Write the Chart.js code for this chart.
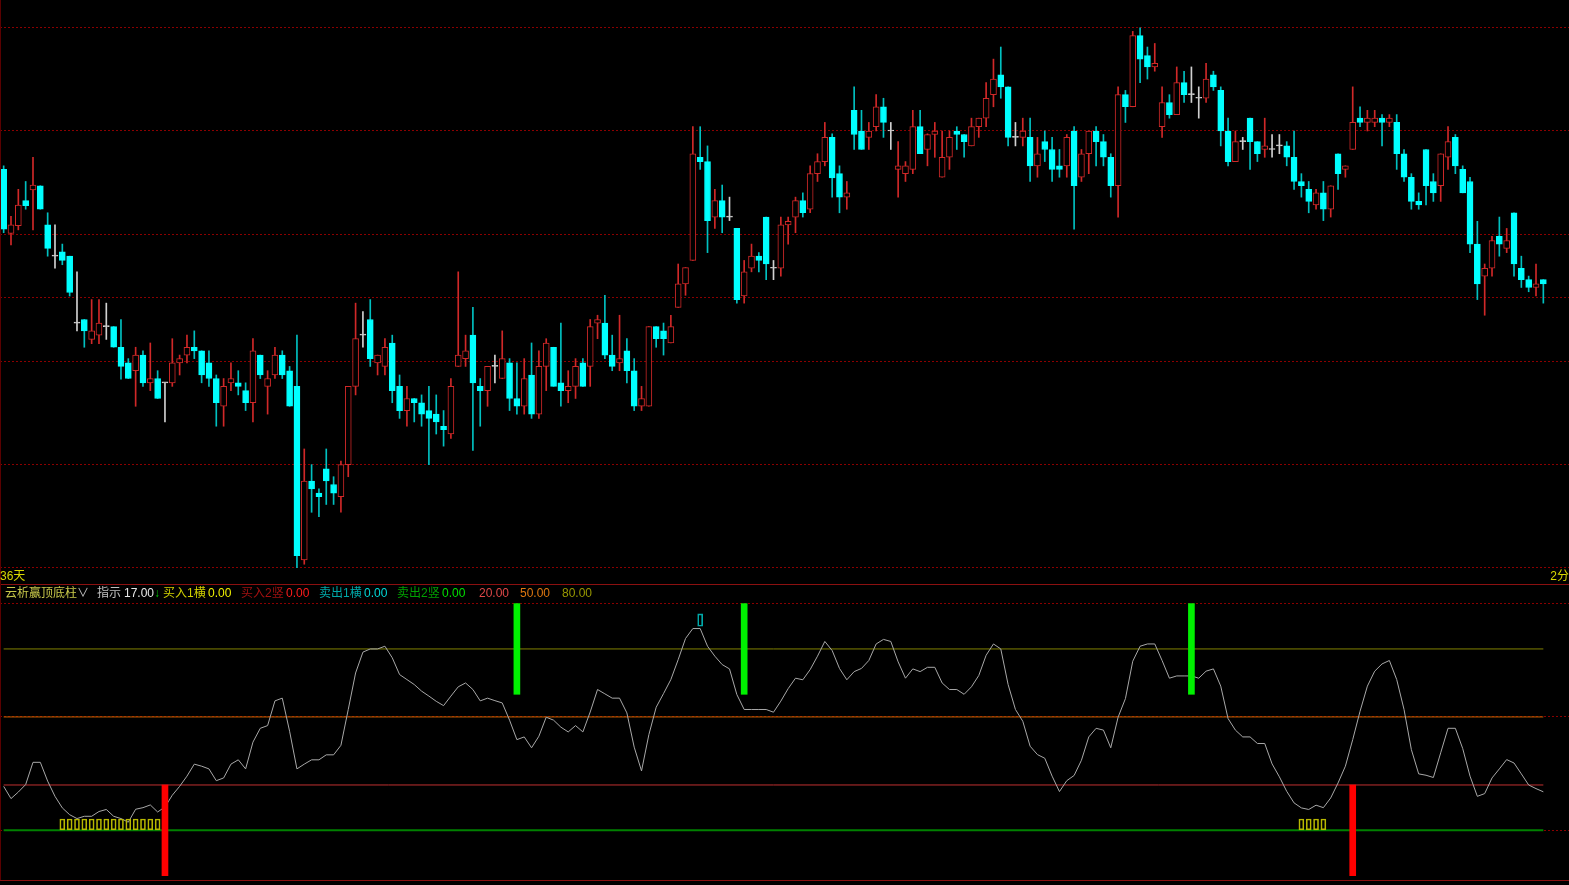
<!DOCTYPE html>
<html>
<head>
<meta charset="utf-8">
<script src="https://cdn.jsdelivr.net/npm/chart.js@4.4.0/dist/chart.umd.min.js"></script>
<style>
  body { margin: 0; background: #000; width: 1569px; height: 885px; overflow: hidden; position: relative;
         font-family: "Liberation Sans", "Noto Sans CJK SC", sans-serif; }
  canvas { position: absolute; left: 0; }
  #price-chart { top: 0; }
  #signal-chart { top: 585px; }
  .txt { position: absolute; font-size: 12px; line-height: 14px; white-space: nowrap; }
  .rule { position: absolute; left: 0; width: 1569px; height: 1px; background: #8b1010; }
</style>
</head>
<body>
<canvas id="price-chart" width="1569" height="584"></canvas>
<div class="rule" style="top:584px"></div>
<canvas id="signal-chart" width="1569" height="300"></canvas>
<div class="rule" style="top:880px"></div>
<div class="rule" style="top:0;width:1px;height:880px;background:#5a0000"></div>

<div class="txt" style="left:0;top:569px;color:#d8d800">36天</div>
<div class="txt" style="right:0;top:569px;color:#d8d800">2分</div>

<div class="txt" style="left:5px;top:586px;color:#c8c84a">云析赢顶底柱</div>
<div class="txt" style="left:77px;top:586px;color:#c0c0c0">∨</div>
<div class="txt" style="left:97px;top:586px;color:#c0c0c0">指示</div>
<div class="txt" style="left:124px;top:586px;color:#e8e8e8">17.00</div>
<div class="txt" style="left:154px;top:586px;color:#00c000">↓</div>
<div class="txt" style="left:163px;top:586px;color:#d0d000">买入1横</div>
<div class="txt" style="left:208px;top:586px;color:#f0f000">0.00</div>
<div class="txt" style="left:241px;top:586px;color:#a01010">买入2竖</div>
<div class="txt" style="left:286px;top:586px;color:#ff1c1c">0.00</div>
<div class="txt" style="left:319px;top:586px;color:#00a8a8">卖出1横</div>
<div class="txt" style="left:364px;top:586px;color:#00d8d8">0.00</div>
<div class="txt" style="left:397px;top:586px;color:#00a000">卖出2竖</div>
<div class="txt" style="left:442px;top:586px;color:#00e000">0.00</div>
<div class="txt" style="left:479px;top:586px;color:#e04848">20.00</div>
<div class="txt" style="left:520px;top:586px;color:#e07810">50.00</div>
<div class="txt" style="left:562px;top:586px;color:#989800">80.00</div>

<script>
'use strict';

let openP = [
  17.90, 17.00, 17.11, 17.46, 17.61, 17.67, 17.12, 16.68, 16.74, 16.68,
  15.74, 15.79, 15.51, 15.57, 15.69, 15.69, 15.40, 15.18, 15.07, 15.29,
  14.90, 14.96, 14.90, 14.90, 15.18, 15.29, 15.40, 15.35, 15.18, 14.96,
  14.57, 14.90, 14.90, 14.79, 14.62, 15.29, 14.85, 15.01, 15.29, 15.07,
  14.85, 12.41, 13.52, 13.35, 13.69, 13.47, 13.30, 13.75, 14.85, 15.57,
  15.79, 15.18, 15.13, 15.46, 14.85, 14.51, 14.68, 14.62, 14.51, 14.46,
  14.29, 14.18, 15.13, 15.24, 15.57, 14.85, 14.79, 15.13, 14.96, 15.18,
  14.68, 14.57, 15.01, 14.46, 15.13, 15.40, 14.90, 14.79, 14.85, 15.18,
  15.13, 15.74, 15.74, 15.29, 15.18, 15.35, 15.07, 14.57, 14.57, 15.69,
  15.63, 15.46, 15.96, 16.29, 16.62, 18.07, 18.01, 17.23, 17.46, 17.23,
  17.07, 16.12, 16.51, 16.68, 17.23, 16.51, 16.51, 17.12, 17.23, 17.46,
  17.34, 17.84, 18.01, 18.35, 17.84, 17.51, 18.73, 18.44, 18.35, 18.50,
  18.78, 18.44, 17.90, 17.84, 17.90, 18.50, 18.18, 18.39, 17.79, 18.07,
  18.44, 18.39, 18.23, 18.50, 18.62, 18.95, 19.23, 19.06, 18.35, 18.35,
  18.35, 17.95, 18.29, 18.18, 17.95, 17.95, 18.44, 17.79, 18.12, 18.44,
  18.29, 18.07, 17.67, 18.95, 18.78, 19.78, 19.50, 19.34, 18.50, 18.84,
  18.67, 19.12, 18.95, 18.90, 18.90, 19.23, 19.01, 18.44, 18.01, 18.29,
  18.62, 18.29, 18.18, 18.18, 18.23, 18.23, 18.07, 17.73, 17.62, 17.40,
  17.57, 17.34, 18.12, 17.90, 18.18, 18.62, 18.56, 18.56, 18.62, 18.56,
  18.56, 18.12, 17.79, 17.45, 18.18, 17.73, 17.67, 18.07, 18.35, 17.90,
  17.73, 16.85, 16.40, 16.51, 16.96, 16.79, 17.29, 16.51, 16.35, 16.24,
  16.35
];

let highP = [
  17.95, 17.24, 17.62, 17.73, 18.07, 17.67, 17.29, 17.12, 16.85, 16.68,
  16.46, 15.79, 16.07, 16.07, 16.02, 15.69, 15.79, 15.24, 15.40, 15.35,
  15.46, 15.07, 14.90, 15.52, 15.29, 15.57, 15.63, 15.35, 15.35, 15.01,
  14.96, 15.18, 15.07, 14.90, 15.52, 15.29, 15.07, 15.40, 15.35, 15.13,
  15.57, 13.97, 13.75, 13.41, 13.97, 13.58, 13.80, 14.85, 16.02, 15.90,
  16.07, 15.29, 15.52, 15.57, 15.01, 14.85, 14.68, 14.73, 14.85, 14.73,
  14.51, 14.96, 16.46, 15.57, 15.96, 14.96, 15.13, 15.29, 15.63, 15.24,
  15.18, 15.24, 15.46, 15.35, 15.52, 15.40, 15.74, 15.07, 15.24, 15.24,
  15.79, 15.85, 16.13, 15.57, 15.85, 15.52, 15.24, 14.85, 15.69, 15.69,
  15.74, 15.85, 16.57, 16.52, 18.50, 18.50, 18.23, 17.62, 17.68, 17.51,
  17.07, 16.62, 16.85, 16.73, 17.23, 16.62, 17.23, 17.23, 17.51, 17.57,
  17.95, 18.12, 18.56, 18.40, 17.95, 17.73, 19.06, 18.73, 18.56, 18.95,
  18.90, 18.56, 18.29, 18.01, 18.73, 18.73, 18.40, 18.56, 18.44, 18.44,
  18.50, 18.39, 18.62, 18.62, 19.12, 19.45, 19.62, 19.06, 18.56, 18.62,
  18.62, 18.35, 18.44, 18.35, 18.18, 18.39, 18.50, 18.18, 18.44, 18.50,
  18.39, 18.12, 19.06, 19.01, 19.84, 19.89, 19.62, 19.67, 19.06, 18.95,
  19.34, 19.28, 19.34, 19.06, 19.39, 19.28, 19.06, 18.62, 18.44, 18.35,
  18.62, 18.29, 18.62, 18.39, 18.39, 18.29, 18.44, 17.84, 17.73, 17.62,
  17.73, 17.67, 18.12, 17.95, 19.06, 18.78, 18.73, 18.73, 18.67, 18.67,
  18.67, 18.18, 17.84, 17.57, 18.18, 17.84, 18.12, 18.50, 18.39, 17.95,
  17.79, 17.17, 16.57, 16.96, 17.23, 17.07, 17.29, 16.68, 16.40, 16.57,
  16.35
];

let lowP = [
  17.01, 16.84, 17.05, 17.34, 17.05, 17.34, 16.68, 16.51, 16.56, 16.12,
  15.63, 15.40, 15.45, 15.45, 15.51, 15.40, 14.95, 14.96, 14.57, 14.85,
  14.79, 14.68, 14.35, 14.85, 15.01, 15.18, 15.24, 14.90, 14.85, 14.29,
  14.29, 14.79, 14.73, 14.51, 14.35, 14.96, 14.46, 14.96, 14.96, 14.57,
  12.30, 12.35, 13.08, 13.02, 13.19, 13.19, 13.08, 13.58, 14.73, 15.40,
  15.13, 15.01, 15.01, 14.62, 14.40, 14.29, 14.35, 14.29, 13.75, 14.18,
  14.01, 14.12, 15.13, 15.13, 13.95, 14.29, 14.57, 14.90, 14.96, 14.51,
  14.46, 14.46, 14.40, 14.40, 14.79, 14.85, 14.57, 14.62, 14.68, 14.85,
  14.85, 15.52, 15.24, 15.07, 15.07, 14.90, 14.51, 14.51, 14.57, 15.40,
  15.29, 15.46, 15.96, 16.13, 16.62, 17.90, 16.73, 17.07, 17.01, 17.18,
  16.02, 16.02, 16.46, 16.46, 16.35, 16.35, 16.40, 16.85, 17.01, 17.23,
  17.29, 17.73, 17.95, 17.51, 17.29, 17.34, 18.18, 18.18, 18.18, 18.44,
  18.35, 18.18, 17.51, 17.73, 17.84, 18.12, 17.95, 18.07, 17.79, 17.90,
  18.18, 18.07, 18.23, 18.35, 18.50, 18.78, 18.90, 18.23, 18.23, 18.23,
  17.73, 17.79, 18.01, 17.73, 17.79, 17.79, 17.06, 17.73, 17.84, 17.95,
  17.95, 17.51, 17.23, 18.56, 18.78, 19.12, 19.17, 19.28, 18.35, 18.62,
  18.67, 18.84, 18.84, 18.62, 18.84, 19.01, 18.23, 17.95, 18.01, 18.18,
  17.90, 18.01, 18.07, 18.07, 18.12, 17.95, 17.62, 17.51, 17.29, 17.34,
  17.18, 17.23, 17.62, 17.79, 18.18, 18.50, 18.44, 18.50, 18.23, 18.50,
  17.90, 17.73, 17.34, 17.34, 17.40, 17.45, 17.45, 17.90, 17.84, 17.57,
  16.73, 16.07, 15.85, 16.40, 16.68, 16.73, 16.40, 16.24, 16.18, 16.12,
  16.02
];

let closeP = [
  17.06, 17.12, 17.40, 17.39, 17.68, 17.34, 16.79, 16.68, 16.62, 16.17,
  15.74, 15.63, 15.63, 15.74, 15.69, 15.40, 15.13, 14.96, 15.29, 14.90,
  14.96, 14.68, 14.90, 15.18, 15.24, 15.40, 15.35, 15.01, 14.96, 14.62,
  14.85, 14.96, 14.85, 14.62, 15.35, 15.01, 14.96, 15.29, 15.01, 14.57,
  12.47, 13.52, 13.41, 13.30, 13.52, 13.35, 13.75, 14.85, 15.52, 15.57,
  15.24, 15.29, 15.40, 14.79, 14.51, 14.68, 14.62, 14.46, 14.40, 14.35,
  14.24, 14.85, 15.29, 15.35, 14.90, 14.79, 15.13, 15.13, 15.24, 14.68,
  14.57, 14.96, 14.46, 15.13, 15.46, 14.85, 14.79, 14.85, 15.13, 14.85,
  15.69, 15.79, 15.29, 15.13, 15.24, 15.07, 14.57, 14.68, 15.69, 15.52,
  15.52, 15.69, 16.29, 16.52, 18.12, 18.01, 17.18, 17.46, 17.23, 17.23,
  16.07, 16.46, 16.68, 16.62, 16.57, 16.51, 17.12, 17.17, 17.46, 17.29,
  17.84, 18.01, 18.35, 17.78, 17.51, 17.57, 18.39, 18.18, 18.44, 18.78,
  18.56, 18.44, 17.95, 17.95, 18.50, 18.12, 18.39, 18.44, 18.07, 18.35,
  18.39, 18.29, 18.50, 18.62, 18.90, 19.17, 19.06, 18.35, 18.35, 18.44,
  17.95, 18.12, 18.18, 17.90, 17.90, 18.35, 17.67, 18.12, 18.44, 18.29,
  18.07, 17.67, 18.95, 18.78, 19.78, 19.45, 19.34, 19.39, 18.84, 18.67,
  19.12, 18.95, 18.95, 18.90, 19.17, 19.06, 18.44, 18.01, 18.29, 18.29,
  18.29, 18.12, 18.23, 18.18, 18.23, 18.07, 17.73, 17.67, 17.45, 17.57,
  17.34, 17.67, 17.84, 17.95, 18.56, 18.56, 18.62, 18.62, 18.56, 18.62,
  18.12, 17.79, 17.45, 17.40, 17.67, 17.57, 18.12, 18.29, 17.95, 17.57,
  16.85, 16.29, 16.51, 16.90, 16.85, 16.90, 16.57, 16.35, 16.24, 16.29,
  16.29
];

// golden-section price lines between the period high and low
let gridPrices = [19.89, 18.44, 16.99, 16.10, 15.20, 13.75, 12.30];

// **** Indicator data ****

let signal = [
  19.4, 14.0, 16.9, 20.2, 30.0, 30.0, 21.7, 15.0, 9.9, 6.9,
  5.2, 6.2, 6.2, 8.3, 9.2, 6.2, 5.2, 3.6, 9.3, 10.0,
  11.2, 8.1, 10.3, 15.5, 19.4, 23.9, 29.2, 28.3, 27.1, 21.9,
  23.1, 29.2, 31.1, 27.1, 38.9, 45.0, 46.2, 57.1, 58.3, 43.7,
  27.1, 29.2, 31.1, 31.1, 33.3, 33.3, 37.5, 53.3, 69.4, 78.6,
  80.0, 80.0, 81.2, 76.1, 68.7, 66.5, 64.3, 61.4, 59.2, 56.9,
  55.0, 59.2, 63.3, 65.0, 62.1, 57.1, 58.3, 57.2, 56.2, 48.6,
  40.0, 41.2, 36.4, 41.5, 49.9, 48.6, 45.5, 43.4, 46.2, 43.4,
  52.2, 62.1, 60.2, 58.3, 58.3, 51.8, 36.7, 26.2, 42.2, 54.3,
  60.3, 66.5, 75.3, 84.6, 89.0, 89.0, 81.2, 76.8, 73.1, 71.2,
  59.9, 53.3, 53.3, 53.3, 53.3, 52.1, 57.0, 62.5, 67.1, 66.4,
  70.9, 76.8, 83.3, 79.3, 71.4, 66.4, 70.0, 71.4, 74.9, 82.2,
  84.2, 83.3, 74.3, 67.1, 71.2, 70.0, 71.9, 71.9, 65.0, 62.1,
  62.1, 60.0, 63.3, 68.3, 77.2, 82.2, 80.0, 64.3, 53.3, 48.1,
  37.1, 33.4, 31.8, 23.9, 17.1, 21.9, 24.2, 30.9, 41.2, 45.0,
  44.2, 36.4, 49.9, 58.1, 74.6, 81.2, 82.2, 82.2, 74.9, 67.1,
  68.1, 68.1, 68.1, 67.1, 70.2, 71.2, 63.6, 49.3, 44.2, 41.2,
  41.2, 38.3, 38.3, 29.3, 23.6, 17.2, 12.1, 9.9, 9.2, 11.1,
  10.0, 14.3, 20.9, 28.3, 40.0, 52.5, 63.6, 70.2, 73.4, 74.9,
  66.5, 53.3, 35.6, 24.9, 24.3, 23.3, 34.2, 45.0, 45.0, 36.1,
  23.9, 15.0, 16.2, 23.1, 27.1, 31.2, 29.7, 24.9, 20.0, 18.4,
  17.0
];

let levels = [80, 50, 20, 0];
let levelColors = ['#808000', '#c86400', '#c03030', '#008000'];
let levelWidths = [1, 1, 1, 2];

let buyDays = [22, 184];        // red columns
let sellDays = [70, 101, 162];  // green columns
let yellowMarkDays = [8, 9, 10, 11, 12, 13, 14, 15, 16, 17, 18, 19, 20, 21, 177, 178, 179, 180];
let cyanMarkDays = [95];

// 211 trading days plus three empty slots on the right
let days = [];
for (let i = 0; i < 214; i++) {
  days.push('D' + i);
}

// **** Helpers ****

function candleColor(i, up, down, flat) {
  if (closeP[i] > openP[i]) return up;
  if (closeP[i] < openP[i]) return down;
  return flat;
}

function markAt(list, range) {
  return days.map((d, i) => list.includes(i) ? range : null);
}

function hideAxis(scale) {
  scale.width = 0;
}

// **** Price chart ****

let priceCtx = document.getElementById('price-chart').getContext('2d');

let priceChartObj = {
  type: 'bar',
  data: {
    labels: days,
    datasets: [{
      data: openP.map((o, i) => [o, closeP[i]]),
      backgroundColor: openP.map((o, i) => candleColor(i, '#000000', '#00ffff', '#d0d0d0')),
      borderColor: openP.map((o, i) => candleColor(i, '#d02828', '#00ffff', '#d0d0d0')),
      borderWidth: 1,
      borderSkipped: false,
      barThickness: 6,
      minBarLength: 1,
      grouped: false
    },
    {
      data: lowP.map((l, i) => [l, highP[i]]),
      backgroundColor: openP.map((o, i) => candleColor(i, '#d02828', '#00c0c0', '#d0d0d0')),
      borderWidth: 0,
      barThickness: 1,
      grouped: false
    }]
  },
  options: {
    responsive: false,
    animation: false,
    layout: { padding: 0 },
    plugins: { legend: { display: false }, tooltip: { enabled: false } },
    scales: {
      x: { display: false },
      y: {
        min: 12.072,
        max: 20.281,
        afterBuildTicks: (scale) => { scale.ticks = gridPrices.map(v => ({ value: v })); },
        afterFit: hideAxis,
        ticks: { display: false },
        grid: { color: '#8b0000', drawTicks: false },
        border: { display: false, dash: [2, 2] }
      }
    }
  }
};

new Chart(priceCtx, priceChartObj);

// **** Indicator chart ****

let signalCtx = document.getElementById('signal-chart').getContext('2d');

let signalDatasets = [
  {
    type: 'bar',
    data: markAt(buyDays, [-20, 20]),
    backgroundColor: '#ff0000',
    barThickness: 6,
    grouped: false
  },
  {
    type: 'bar',
    data: markAt(sellDays, [60, 100]),
    backgroundColor: '#00f000',
    barThickness: 6,
    grouped: false
  },
  {
    type: 'bar',
    data: markAt(yellowMarkDays, [0, 5]),
    backgroundColor: 'rgba(0,0,0,0)',
    borderColor: '#b8b800',
    borderWidth: 1,
    borderSkipped: false,
    barThickness: 5,
    grouped: false
  },
  {
    type: 'bar',
    data: markAt(cyanMarkDays, [90, 95.5]),
    backgroundColor: 'rgba(0,0,0,0)',
    borderColor: '#00a8a8',
    borderWidth: 1,
    borderSkipped: false,
    barThickness: 5,
    grouped: false
  },
  {
    type: 'line',
    data: signal,
    borderColor: '#a8a8a8',
    borderWidth: 1,
    pointRadius: 0,
    tension: 0
  }
];

for (let i = 0; i < levels.length; i++) {
  signalDatasets.push({
    type: 'line',
    data: [{ x: days[0], y: levels[i] }, { x: days[signal.length - 1], y: levels[i] }],
    borderColor: levelColors[i],
    borderWidth: levelWidths[i],
    pointRadius: 0
  });
}

let signalChartObj = {
  type: 'bar',
  data: {
    labels: days,
    datasets: signalDatasets
  },
  options: {
    responsive: false,
    animation: false,
    layout: { padding: { bottom: 5 } },
    plugins: { legend: { display: false }, tooltip: { enabled: false } },
    scales: {
      x: { display: false },
      y: {
        min: -21.9,
        max: 108.2,
        afterBuildTicks: (scale) => { scale.ticks = [0, 50, 100].map(v => ({ value: v })); },
        afterFit: hideAxis,
        ticks: { display: false },
        grid: { color: '#8b0000', drawTicks: false },
        border: { display: false, dash: [2, 2] }
      }
    }
  }
};

new Chart(signalCtx, signalChartObj);
</script>
</body>
</html>
